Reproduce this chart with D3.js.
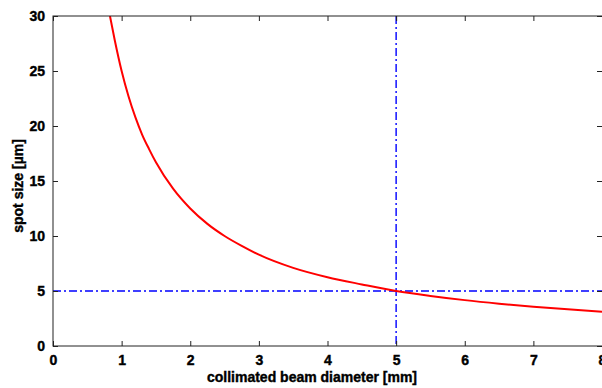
<!DOCTYPE html>
<html>
<head>
<meta charset="utf-8">
<script src="https://cdn.jsdelivr.net/npm/d3@7"></script>
<style>
  body { margin: 0; background: #fff; }
  text { font-family: "Liberation Sans", Arial, sans-serif; font-weight: bold; fill: #000; }
</style>
</head>
<body>
<svg id="chart" width="602" height="388"></svg>
<script>
// beam diameter [mm] -> spot size [um]
const diameters = [0.83, 0.9, 1, 1.1, 1.2, 1.3, 1.4, 1.5, 1.75, 2, 2.25, 2.5, 2.75, 3, 3.5, 4, 4.5, 5, 5.5, 6, 6.5, 7, 7.5, 8];
const spotSizes = [30, 27.8, 25, 22.7, 20.8, 19.2, 17.9, 16.7, 14.3, 12.5, 11.1, 10, 9.1, 8.3, 7.1, 6.25, 5.6, 5, 4.55, 4.17, 3.85, 3.57, 3.33, 3.12];
const xTicks = [0, 1, 2, 3, 4, 5, 6, 7, 8];
const yTicks = [0, 5, 10, 15, 20, 25, 30];
const markerX = 5;   // chosen diameter
const markerY = 5;   // resulting spot size

const svg = d3.select("#chart");
const plotLeft = 53, plotRight = 602, plotTop = 16, plotBottom = 346;

const x = d3.scaleLinear().domain([0, 8]).range([plotLeft, plotRight]);
const y = d3.scaleLinear().domain([0, 30]).range([plotBottom, plotTop]);

svg.append("clipPath").attr("id", "clip")
    .append("rect")
    .attr("x", plotLeft).attr("y", plotTop)
    .attr("width", plotRight - plotLeft).attr("height", plotBottom - plotTop);

const plot = svg.append("g").attr("clip-path", "url(#clip)");

// dash-dot reference lines
plot.append("line")
    .attr("x1", x(0)).attr("x2", x(8))
    .attr("y1", y(markerY)).attr("y2", y(markerY))
    .attr("stroke", "#0000ff").attr("stroke-width", 1.4)
    .attr("stroke-dasharray", "8,3,2,3");

plot.append("line")
    .attr("x1", x(markerX)).attr("x2", x(markerX))
    .attr("y1", y(30)).attr("y2", y(0))
    .attr("stroke", "#0000ff").attr("stroke-width", 1.4)
    .attr("stroke-dasharray", "8,3,2,3");

const line = d3.line()
    .x((d, i) => x(d))
    .y((d, i) => y(spotSizes[i]))
    .curve(d3.curveMonotoneX);

plot.append("path")
    .datum(diameters)
    .attr("d", line)
    .attr("fill", "none")
    .attr("stroke", "#ff0000")
    .attr("stroke-width", 2);

// axes box, MATLAB style: ticks inside on all four sides
svg.append("rect")
    .attr("x", plotLeft).attr("y", plotTop)
    .attr("width", plotRight - plotLeft + 2).attr("height", plotBottom - plotTop)
    .attr("fill", "none").attr("stroke", "#222").attr("stroke-width", 1);

const bottomAxis = d3.axisBottom(x).tickValues(xTicks).tickSizeInner(-5).tickSizeOuter(0).tickPadding(9);
const topAxis = d3.axisTop(x).tickValues(xTicks).tickSizeInner(-5).tickSizeOuter(0).tickFormat("");
const leftAxis = d3.axisLeft(y).tickValues(yTicks).tickSizeInner(-5).tickSizeOuter(0).tickPadding(8);
const rightAxis = d3.axisRight(y).tickValues(yTicks).tickSizeInner(-5).tickSizeOuter(0).tickFormat("");

function styleAxis(g) {
    g.select(".domain").remove();
    g.selectAll(".tick line").attr("stroke", "#222");
    g.selectAll(".tick text")
        .style("font-family", "'Liberation Sans', Arial, sans-serif")
        .style("font-weight", "bold")
        .style("font-size", "14px")
        .attr("fill", "#000")
        .attr("stroke", "#000")
        .attr("stroke-width", 0.4);
}

svg.append("g").attr("transform", `translate(0,${plotBottom})`).call(bottomAxis).call(styleAxis);
svg.append("g").attr("transform", `translate(0,${plotTop})`).call(topAxis).call(styleAxis);
svg.append("g").attr("transform", `translate(${plotLeft},0)`).call(leftAxis).call(styleAxis);
svg.append("g").attr("transform", `translate(${plotRight},0)`).call(rightAxis).call(styleAxis);

// axis labels
svg.append("text")
    .attr("x", 312).attr("y", 382)
    .attr("text-anchor", "middle")
    .attr("stroke", "#000").attr("stroke-width", 0.4)
    .style("font-size", "14px")
    .text("collimated beam diameter [mm]");

svg.append("text")
    .attr("transform", "translate(23,186) rotate(-90)")
    .attr("text-anchor", "middle")
    .attr("stroke", "#000").attr("stroke-width", 0.4)
    .style("font-size", "14px")
    .text("spot size [µm]");
</script>
</body>
</html>
